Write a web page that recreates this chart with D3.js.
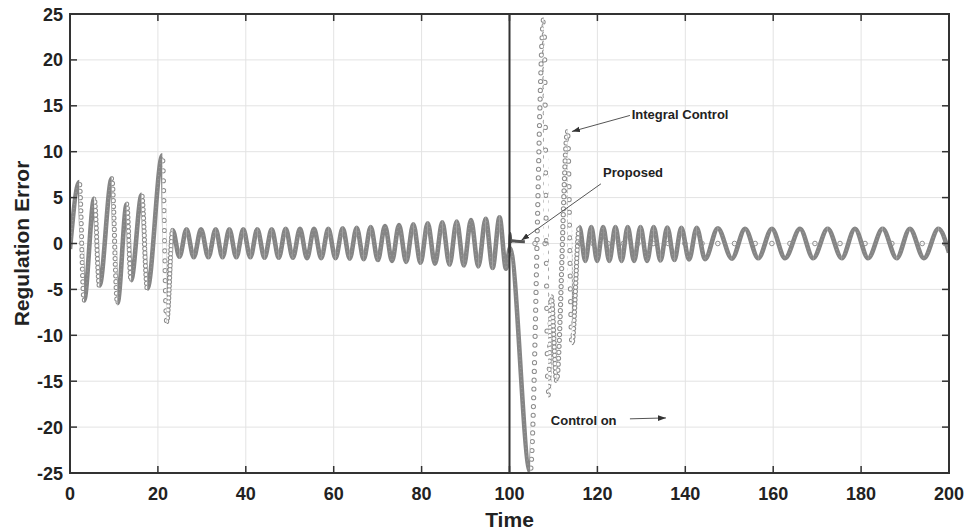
<!DOCTYPE html>
<html><head><meta charset="utf-8">
<script src="https://cdn.jsdelivr.net/npm/d3@7"></script>
<style>
body{margin:0;background:#fff}
text{font-family:"Liberation Sans",Arial,sans-serif;font-weight:bold;fill:#222}
</style></head>
<body><svg id="c" width="973" height="530"></svg>
<script>
// ---- data ----
const xTicks = [0,20,40,60,80,100,120,140,160,180,200];
const yTicks = [-25,-20,-15,-10,-5,0,5,10,15,20,25];
const xLabel = "Time";
const yLabel = "Regulation Error";
const controlOnTime = 100;

// open-loop error before control is switched on (turning points)
const preT = [0,2.1,3.2,5.5,6.7,9.5,10.8,12.9,13.9,16.3,17.6,21.0,22.0,
  23.37,24.9,26.51,28.16,29.81,31.48,33.15,34.70,36.25,37.84,39.43,41.03,42.62,44.26,45.89,47.49,
  49.08,50.71,52.33,53.93,55.52,57.15,58.77,60.41,62.05,63.64,65.23,66.83,68.42,70.05,71.67,73.27,
  74.86,76.49,78.11,79.75,81.39,83.05,84.71,86.35,87.99,89.62,91.24,92.91,94.58,96.16,97.73,99.2];
const preV = [-0.6,6.7,-6.2,4.9,-4.6,7.1,-6.5,4.3,-4.0,5.3,-4.9,9.6,-8.5,
  1.45,-1.45,1.55,-1.5,1.55,-1.5,1.55,-1.5,1.55,-1.5,1.55,-1.5,1.55,-1.55,1.55,-1.55,
  1.6,-1.55,1.6,-1.6,1.6,-1.6,1.6,-1.6,1.65,-1.65,1.7,-1.7,1.8,-1.8,1.9,-1.9,
  2.0,-2.0,2.1,-2.1,2.2,-2.2,2.3,-2.3,2.4,-2.4,2.55,-2.5,2.7,-2.65,2.85,-2.75];

// integral control response after switch-on (turning points)
const integralT = [100.1,104.7,107.8,108.8,109.5,110.7,113.2,114.2,
  115.9,117.25,118.6,119.95,121.3,122.7,124.1,125.5,126.9,128.35,129.8,131.3,132.8,134.35,135.9,137.5,
  139.1,140.85,142.6,144.5,147.4,150.6,153.6,156.6,159.7,162.7,166.1,169.1,172.4,175.6,178.6,181.6,
  184.9,188.1,191.1,194.3,197.6,200];
const integralV = [-0.5,-24.9,24.5,-16.5,-5.8,-14.9,12.2,-10.9,
  1.8,-1.9,1.8,-1.9,1.8,-1.9,1.8,-1.9,1.8,-1.9,1.8,-1.9,1.8,-1.85,1.75,-1.8,
  1.7,-1.75,1.7,-1.7,1.65,-1.65,1.6,-1.6,1.6,-1.6,1.6,-1.6,1.6,-1.6,1.6,-1.6,
  1.6,-1.6,1.6,-1.6,1.6,-1.0];

// proposed controller: fast settling after switch-on
const proposedT = [100,100.15,100.3,100.6,101.5,103.5];
const proposedV = [-1.0,1.1,0.2,0.3,0.25,0.2];
const proposedMarkT = [105.8,108.1,116.0,119.0,122.4,125.9,129.2,132.7,136.1,139.9,143.8,147.4,151.2,155.9,159.7,163.8,169.5,175.2,180.9,187.0,193.9,199.1];
const proposedMarkV = [0,0,0,0,0,0,0,0,0,0,0,0,0,0,0,0,0,0,0,0,0,0];

// ---- layout ----
const W=973,H=530, m={l:70,r:24,t:14,b:57};
const svg=d3.select("#c");
const x=d3.scaleLinear().domain([0,200]).range([m.l,W-m.r]);
const y=d3.scaleLinear().domain([-25,25]).range([H-m.b,m.t]);
const defs=svg.append("defs");
defs.append("clipPath").attr("id","plot").append("rect")
  .attr("x",m.l).attr("y",m.t).attr("width",W-m.l-m.r).attr("height",H-m.t-m.b);

// grid
const g=svg.append("g");
g.selectAll(".gx").data(xTicks.slice(1,-1)).join("line")
  .attr("x1",d=>x(d)).attr("x2",d=>x(d)).attr("y1",m.t).attr("y2",H-m.b)
  .attr("stroke","#e3e3e3").attr("stroke-width",1);
g.selectAll(".gy").data(yTicks.slice(1,-1)).join("line")
  .attr("y1",d=>y(d)).attr("y2",d=>y(d)).attr("x1",m.l).attr("x2",W-m.r)
  .attr("stroke","#e3e3e3").attr("stroke-width",1);

// series
const allT=preT.concat(integralT), allV=preV.concat(integralV);
const pts=allT.map((t,i)=>[t,allV[i]]);
const line=d3.line().x(d=>x(d[0])).y(d=>y(d[1])).curve(d3.curveMonotoneX);
const pathD=line(pts);
const kx=(W-m.l-m.r)/200, ky=(H-m.t-m.b)/50, dt=0.06;
const series=svg.append("g").attr("clip-path","url(#plot)");
for(let i=0;i<pts.length-1;i++){
  const [t0,v0]=pts[i],[t1,v1]=pts[i+1];
  const slope=Math.abs(v1-v0)/(t1-t0);
  const sp=Math.hypot(kx,slope*ky)*dt;
  const id="seg"+i;
  defs.append("clipPath").attr("id",id).append("rect")
    .attr("x",x(t0)).attr("y",0).attr("width",Math.max(0.5,x(t1)-x(t0))).attr("height",H);
  const sg=series.append("g").attr("clip-path",`url(#${id})`);
  if(sp<3){
    sg.append("path").attr("d",pathD).attr("fill","none").attr("stroke","#858585").attr("stroke-width",4.6);
    sg.append("path").attr("d",pathD).attr("fill","none").attr("stroke","#9a9a9a").attr("stroke-width",1.2)
      .attr("stroke-dasharray","1 3");
  } else {
    sg.append("path").attr("d",pathD).attr("fill","none").attr("stroke","#8d8d8d").attr("stroke-width",5.2)
      .attr("stroke-linecap","round").attr("stroke-dasharray",`0 ${sp.toFixed(2)}`);
    sg.append("path").attr("d",pathD).attr("fill","none").attr("stroke","#fff").attr("stroke-width",3.2)
      .attr("stroke-linecap","round").attr("stroke-dasharray",`0 ${sp.toFixed(2)}`);
  }
}
// proposed
const pLine=d3.line().x(d=>x(d[0])).y(d=>y(d[1])).curve(d3.curveMonotoneX);
series.append("path").attr("d",pLine(proposedT.map((t,i)=>[t,proposedV[i]])))
  .attr("fill","none").attr("stroke","#555").attr("stroke-width",3);
series.selectAll(".pm").data(proposedMarkT).join("circle")
  .attr("cx",d=>x(d)).attr("cy",(d,i)=>y(proposedMarkV[i])).attr("r",2.3)
  .attr("fill","none").attr("stroke","#8d8d8d").attr("stroke-width",1);

// control-on line
svg.append("line").attr("x1",x(controlOnTime)).attr("x2",x(controlOnTime))
  .attr("y1",m.t).attr("y2",H-m.b).attr("stroke","#333").attr("stroke-width",2);

// axes box and ticks
const ax=svg.append("g");
ax.append("rect").attr("x",m.l).attr("y",m.t).attr("width",W-m.l-m.r).attr("height",H-m.t-m.b)
  .attr("fill","none").attr("stroke","#333").attr("stroke-width",2);
const tl=7;
ax.selectAll(".tb").data(xTicks).join("line").attr("x1",d=>x(d)).attr("x2",d=>x(d))
  .attr("y1",H-m.b).attr("y2",H-m.b-tl).attr("stroke","#333").attr("stroke-width",1.5);
ax.selectAll(".tt").data(xTicks).join("line").attr("x1",d=>x(d)).attr("x2",d=>x(d))
  .attr("y1",m.t).attr("y2",m.t+tl).attr("stroke","#333").attr("stroke-width",1.5);
ax.selectAll(".tlft").data(yTicks).join("line").attr("y1",d=>y(d)).attr("y2",d=>y(d))
  .attr("x1",m.l).attr("x2",m.l+tl).attr("stroke","#333").attr("stroke-width",1.5);
ax.selectAll(".trt").data(yTicks).join("line").attr("y1",d=>y(d)).attr("y2",d=>y(d))
  .attr("x1",W-m.r).attr("x2",W-m.r-tl).attr("stroke","#333").attr("stroke-width",1.5);
ax.selectAll(".xl").data(xTicks).join("text").attr("x",d=>x(d)).attr("y",H-m.b+27)
  .attr("text-anchor","middle").attr("font-size",18).text(d=>d);
ax.selectAll(".yl").data(yTicks).join("text").attr("x",m.l-7).attr("y",d=>y(d)+6.5)
  .attr("text-anchor","end").attr("font-size",18).text(d=>d);
svg.append("text").attr("x",(m.l+W-m.r)/2).attr("y",H-3).attr("text-anchor","middle")
  .attr("font-size",21).text(xLabel);
svg.append("text").attr("transform",`translate(29,${(m.t+H-m.b)/2}) rotate(-90)`)
  .attr("text-anchor","middle").attr("font-size",21).text(yLabel);

// annotations
defs.append("marker").attr("id","ah").attr("viewBox","0 0 10 10").attr("refX",10).attr("refY",5)
  .attr("markerWidth",8).attr("markerHeight",8).attr("orient","auto").attr("markerUnits","userSpaceOnUse")
  .append("path").attr("d","M0,1.5L10,5L0,8.5Z").attr("fill","#333");
const notes=[
  {text:"Integral Control", tx:127.8, tv:14.1, from:[127.4,13.95], to:[114.2,12.2]},
  {text:"Proposed", tx:121.3, tv:7.8, from:[120.8,6.5], to:[102.7,0.35]},
  {text:"Control on", tx:109.4, tv:-19.3, from:[127.4,-19.1], to:[135.6,-19.0]}
];
notes.forEach(n=>{
  svg.append("line").attr("x1",x(n.from[0])).attr("y1",y(n.from[1])).attr("x2",x(n.to[0])).attr("y2",y(n.to[1]))
    .attr("stroke","#555").attr("stroke-width",1).attr("marker-end","url(#ah)");
  svg.append("text").attr("x",x(n.tx)).attr("y",y(n.tv)+4.7).attr("font-size",13).text(n.text);
});
</script></body></html>
